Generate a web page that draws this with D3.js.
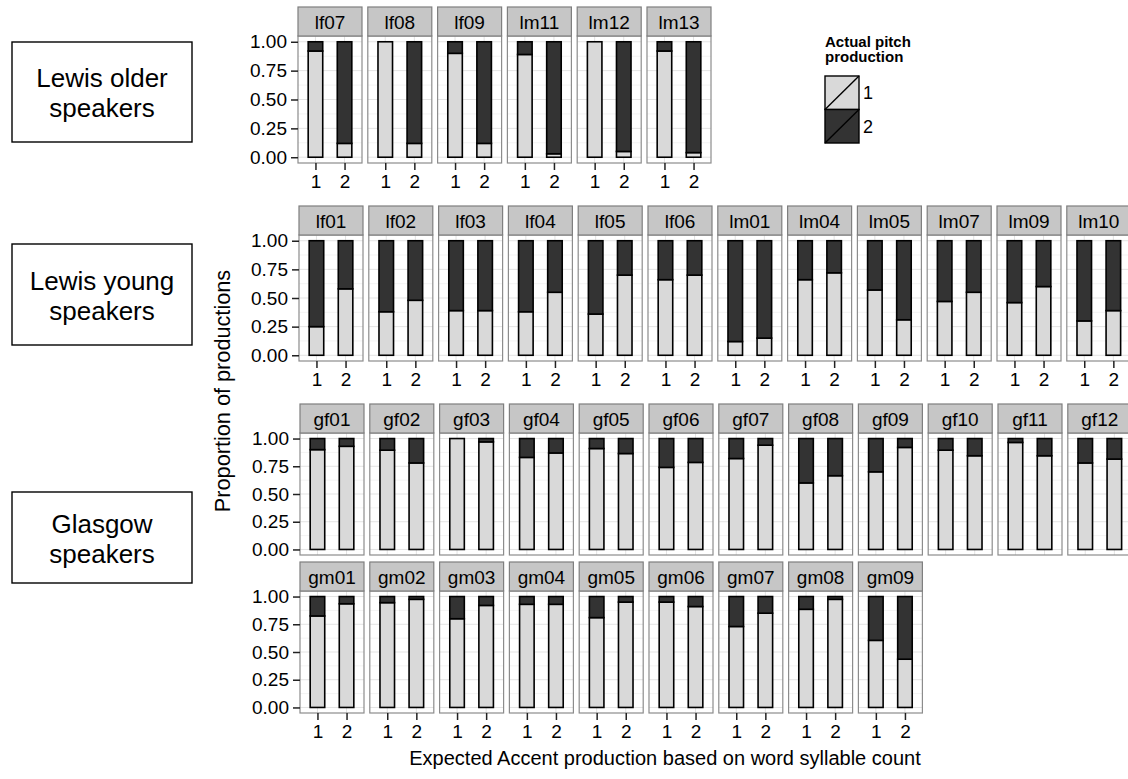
<!DOCTYPE html>
<html>
<head>
<meta charset="utf-8">
<script src="https://cdn.jsdelivr.net/npm/d3@7"></script>
<style>
body { margin: 0; background: #fff; }
svg { display: block; font-family: "Liberation Sans", Arial, Helvetica, sans-serif; }
</style>
</head>
<body>
<div id="vis"></div>
<script>
// proportion of productions with actual pitch 1, for expected accent 1 and 2
var olderNames = ["lf07", "lf08", "lf09", "lm11", "lm12", "lm13"];
var olderExp1 = [0.92, 1.00, 0.90, 0.89, 1.00, 0.92];
var olderExp2 = [0.12, 0.12, 0.12, 0.03, 0.05, 0.04];

var youngNames = ["lf01", "lf02", "lf03", "lf04", "lf05", "lf06", "lm01", "lm04", "lm05", "lm07", "lm09", "lm10"];
var youngExp1 = [0.25, 0.38, 0.39, 0.38, 0.36, 0.66, 0.12, 0.66, 0.57, 0.47, 0.46, 0.30];
var youngExp2 = [0.58, 0.48, 0.39, 0.55, 0.70, 0.70, 0.15, 0.72, 0.31, 0.55, 0.60, 0.39];

var glasgowNames = ["gf01", "gf02", "gf03", "gf04", "gf05", "gf06", "gf07", "gf08", "gf09", "gf10", "gf11", "gf12",
                    "gm01", "gm02", "gm03", "gm04", "gm05", "gm06", "gm07", "gm08", "gm09"];
var glasgowExp1 = [0.90, 0.895, 1.00, 0.83, 0.91, 0.74, 0.82, 0.60, 0.70, 0.895, 0.965, 0.78,
                   0.825, 0.945, 0.80, 0.93, 0.81, 0.95, 0.73, 0.885, 0.605];
var glasgowExp2 = [0.93, 0.78, 0.97, 0.87, 0.865, 0.785, 0.94, 0.665, 0.92, 0.845, 0.845, 0.815,
                   0.935, 0.975, 0.92, 0.93, 0.95, 0.91, 0.85, 0.975, 0.435];

var xCats = ["1", "2"];
var pitchLevels = ["1", "2"];
var yTicks = [0, 0.25, 0.5, 0.75, 1];
var yMinor = [0.125, 0.375, 0.625, 0.875];

var fills = d3.scaleOrdinal().domain(pitchLevels).range(["#d9d9d9", "#333333"]);

var svg = d3.select('#vis').append('svg').attr('width', 1128).attr('height', 779);

var panelW = 64, colStep = 69.8, stripH = 29;
var x = d3.scalePoint().domain(xCats).range([0, panelW]).padding(0.6);
var barW = x.step() * 0.5;

function drawRow(names, exp1, exp2, x0, stripTop, panelBottom, showX) {
  var panelTop = stripTop + stripH;
  var y = d3.scaleLinear().domain([-0.05, 1.05]).range([panelBottom, panelTop]);
  var g = svg.append('g');

  names.forEach(function(name, i) {
    var px = x0 + i * colStep;
    var p = g.append('g').attr('transform', 'translate(' + px + ',0)');

    // grid
    p.selectAll('line.minor').data(yMinor).enter().append('line')
      .attr('x1', 0).attr('x2', panelW)
      .attr('y1', function(d) { return y(d); }).attr('y2', function(d) { return y(d); })
      .attr('stroke', '#f3f3f3');
    p.selectAll('line.major').data(yTicks).enter().append('line')
      .attr('x1', 0).attr('x2', panelW)
      .attr('y1', function(d) { return y(d); }).attr('y2', function(d) { return y(d); })
      .attr('stroke', '#e3e3e3');
    p.selectAll('line.vmajor').data(xCats).enter().append('line')
      .attr('x1', function(d) { return x(d); }).attr('x2', function(d) { return x(d); })
      .attr('y1', panelTop).attr('y2', panelBottom)
      .attr('stroke', '#e3e3e3');

    // stacked bars
    var vals = [exp1[i], exp2[i]];
    xCats.forEach(function(c, j) {
      var v = vals[j];
      var segs = [{lev: "1", y0: 0, y1: v}, {lev: "2", y0: v, y1: 1}];
      p.selectAll('rect.b' + j).data(segs.filter(function(s) { return s.y1 - s.y0 > 0.0005; }))
        .enter().append('rect')
        .attr('x', x(c) - barW / 2).attr('width', barW)
        .attr('y', function(s) { return y(s.y1); })
        .attr('height', function(s) { return y(s.y0) - y(s.y1); })
        .attr('fill', function(s) { return fills(s.lev); })
        .attr('stroke', '#000').attr('stroke-width', 1.6);
    });

    // panel border
    p.append('rect').attr('x', 0).attr('y', panelTop).attr('width', panelW)
      .attr('height', panelBottom - panelTop)
      .attr('fill', 'none').attr('stroke', '#8c8c8c').attr('stroke-width', 1.2);

    // strip
    p.append('rect').attr('x', 0).attr('y', stripTop).attr('width', panelW).attr('height', stripH)
      .attr('fill', '#c6c6c6').attr('stroke', '#7f7f7f').attr('stroke-width', 1.2);
    p.append('text').attr('x', panelW / 2).attr('y', stripTop + stripH / 2 + 7)
      .attr('text-anchor', 'middle').attr('font-size', 19).text(name);

    if (showX) {
      var ax = p.append('g').attr('transform', 'translate(0,' + panelBottom + ')')
        .call(d3.axisBottom(x).tickSize(7).tickPadding(5));
      ax.select('.domain').remove();
      ax.selectAll('line').attr('stroke', '#222').attr('stroke-width', 1.5);
      ax.selectAll('text').attr('font-size', 19).attr('fill', '#000').attr('font-family', null);
    }
  });

  var ay = g.append('g').attr('transform', 'translate(' + x0 + ',0)')
    .call(d3.axisLeft(y).tickValues(yTicks).tickFormat(d3.format('.2f')).tickSize(7).tickPadding(4));
  ay.select('.domain').remove();
  ay.selectAll('line').attr('stroke', '#222').attr('stroke-width', 1.5);
  ay.selectAll('text').attr('font-size', 19).attr('fill', '#000').attr('font-family', null);
}

drawRow(olderNames, olderExp1, olderExp2, 298, 7, 163, true);
drawRow(youngNames, youngExp1, youngExp2, 299, 206, 361, true);
drawRow(glasgowNames.slice(0, 12), glasgowExp1.slice(0, 12), glasgowExp2.slice(0, 12), 300, 404, 555, false);
drawRow(glasgowNames.slice(12), glasgowExp1.slice(12), glasgowExp2.slice(12), 300, 562, 713, true);

// group boxes
var groups = [
  {lines: ["Lewis older", "speakers"], y0: 42, y1: 142},
  {lines: ["Lewis young", "speakers"], y0: 244, y1: 345},
  {lines: ["Glasgow", "speakers"], y0: 492, y1: 583}
];
groups.forEach(function(gr) {
  svg.append('rect').attr('x', 12).attr('y', gr.y0).attr('width', 180).attr('height', gr.y1 - gr.y0)
    .attr('fill', '#fff').attr('stroke', '#000').attr('stroke-width', 1.4);
  var cy = (gr.y0 + gr.y1) / 2;
  gr.lines.forEach(function(t, k) {
    svg.append('text').attr('x', 102).attr('y', cy - 5 + k * 30)
      .attr('text-anchor', 'middle').attr('font-size', 26).text(t);
  });
});

// axis titles
svg.append('text').attr('transform', 'translate(230,391) rotate(-90)')
  .attr('text-anchor', 'middle').attr('font-size', 21.7).text('Proportion of productions');
svg.append('text').attr('x', 665).attr('y', 765)
  .attr('text-anchor', 'middle').attr('font-size', 20).text('Expected Accent production based on word syllable count');

// legend
var leg = svg.append('g');
leg.append('text').attr('x', 825).attr('y', 47).attr('font-size', 15).attr('font-weight', 'bold').text('Actual pitch');
leg.append('text').attr('x', 825).attr('y', 62).attr('font-size', 15).attr('font-weight', 'bold').text('production');
pitchLevels.forEach(function(lev, k) {
  var ky = 76 + k * 33.5;
  leg.append('rect').attr('x', 825).attr('y', ky).attr('width', 34).attr('height', 33.5)
    .attr('fill', fills(lev)).attr('stroke', '#000').attr('stroke-width', 1.4);
  leg.append('line').attr('x1', 825).attr('y1', ky + 33.5).attr('x2', 859).attr('y2', ky)
    .attr('stroke', '#000').attr('stroke-width', 1.4);
  leg.append('text').attr('x', 863).attr('y', ky + 23).attr('font-size', 18).text(lev);
});
</script>
</body>
</html>
